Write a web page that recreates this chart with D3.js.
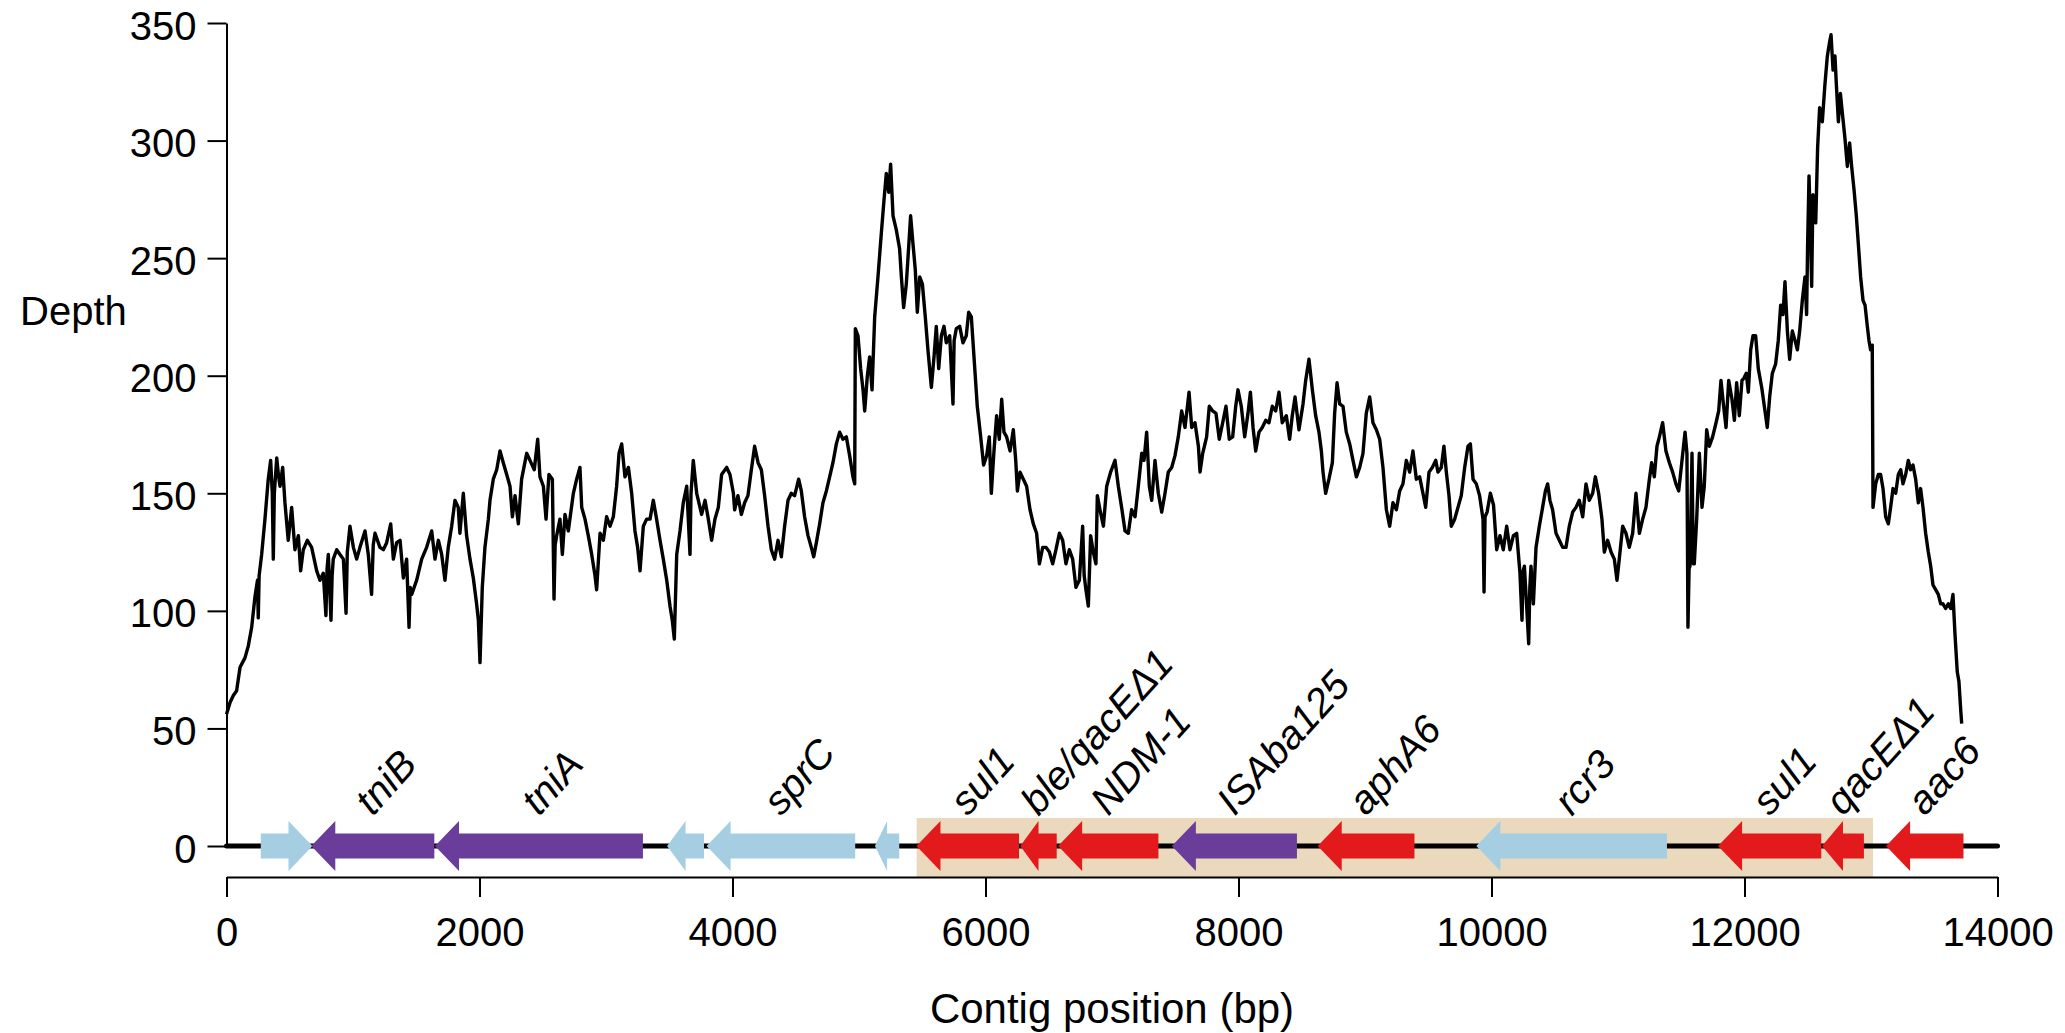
<!DOCTYPE html>
<html><head><meta charset="utf-8">
<script src="https://cdn.jsdelivr.net/npm/d3@7"></script>
<style>
body{margin:0;background:#fff}
svg{display:block}
text{font-family:"Liberation Sans",Arial,Helvetica,sans-serif;fill:#000}
</style>
</head><body>
<svg id="chart" width="2065" height="1033"></svg>
<script>
// ---------- data ----------
const xTicks = [0, 2000, 4000, 6000, 8000, 10000, 12000, 14000];
const yTicks = [0, 50, 100, 150, 200, 250, 300, 350];
const xTitle = "Contig position (bp)";
const yTitle = "Depth";

// depth along the contig (bp position, depth)
const depthPos = [
0,28,54,80,107,146,172,199,225,245,
251,258,278,304,330,349,362,370,378,397,
410,423,444,462,488,515,541,568,586,607,
639,673,713,739,765,786,795,805,826,835,
844,871,897,924,945,955,976,1003,1029,1055,
1095,1121,1147,1160,1174,1213,1240,1266,1298,1319,
1345,1372,1398,1424,1443,1452,1464,1503,1543,1582,
1622,1648,1675,1701,1727,1753,1780,1806,1832,1845,
1872,1898,1925,1951,1977,1991,2004,2022,2043,2070,
2083,2109,2136,2162,2188,2215,2241,2260,2281,2307,
2333,2373,2399,2433,2460,2478,2505,2526,2549,2576,
2589,2598,2610,2636,2655,2676,2702,2742,2768,2794,
2808,2834,2860,2887,2913,2926,2953,2979,3005,3032,
3058,3084,3103,3124,3150,3177,3203,3229,3250,3269,
3295,3321,3348,3374,3400,3427,3453,3480,3506,3524,
3540,3559,3585,3611,3638,3664,3672,3690,3717,3756,
3783,3809,3835,3861,3888,3914,3954,3980,4007,4017,
4043,4070,4096,4122,4149,4175,4202,4228,4254,4281,
4307,4333,4360,4386,4412,4439,4465,4491,4523,4544,
4570,4597,4623,4642,4663,4689,4715,4742,4768,4794,
4821,4847,4873,4900,4926,4952,4966,4971,4992,5013,
5032,5045,5066,5084,5103,5124,5150,5177,5198,5216,
5235,5250,5269,5295,5321,5335,5353,5374,5393,5408,
5427,5445,5461,5480,5501,5524,5545,5572,5593,5611,
5630,5651,5672,5690,5717,5743,5752,5769,5796,5822,
5848,5867,5888,5909,5935,5960,5985,6009,6030,6046,
6067,6088,6109,6128,6146,6167,6194,6220,6239,6252,
6273,6299,6325,6352,6378,6404,6426,6452,6478,6505,
6531,6557,6584,6610,6636,6663,6689,6715,6742,6768,
6780,6794,6813,6831,6852,6873,6884,6905,6932,6958,
6989,7024,7050,7076,7103,7129,7155,7182,7208,7235,
7253,7274,7295,7314,7340,7366,7393,7419,7445,7472,
7498,7524,7551,7577,7609,7630,7656,7683,7696,7717,
7748,7769,7796,7822,7848,7875,7901,7927,7954,7978,
7996,8022,8049,8075,8094,8115,8136,8162,8188,8215,
8241,8267,8294,8320,8346,8378,8404,8425,8447,8478,
8510,8531,8557,8584,8610,8636,8655,8668,8689,8715,
8742,8760,8779,8800,8826,8852,8879,8905,8932,8958,
8984,9010,9037,9063,9090,9116,9142,9169,9195,9221,
9248,9274,9300,9327,9353,9379,9406,9432,9458,9480,
9506,9532,9559,9577,9603,9624,9643,9664,9682,9709,
9735,9761,9788,9814,9833,9854,9880,9906,9933,9941,
9949,9965,9991,10016,10041,10067,10093,10120,10146,10173,
10199,10225,10241,10250,10260,10278,10294,10303,10312,10331,
10352,10378,10404,10426,10444,10462,10483,10510,10536,10563,
10589,10615,10642,10668,10694,10721,10747,10773,10800,10821,
10847,10873,10892,10918,10945,10971,10992,11010,11037,11063,
11089,11116,11142,11169,11195,11221,11248,11266,11287,11308,
11327,11353,11379,11406,11432,11458,11480,11506,11530,11545,
11553,11562,11569,11585,11595,11603,11622,11643,11664,11682,
11701,11722,11748,11775,11796,11814,11833,11854,11875,11901,
11920,11938,11959,11980,11996,12014,12030,12049,12067,12088,
12109,12136,12162,12180,12199,12220,12246,12267,12286,12304,
12320,12339,12357,12378,12399,12418,12436,12457,12478,12491,
12499,12510,12520,12531,12541,12563,12578,12594,12615,12636,
12655,12673,12684,12700,12715,12726,12742,12758,12773,12794,
12813,12831,12847,12866,12884,12900,12918,12937,12953,12971,
12984,12997,13010,13016,13037,13058,13076,13095,13116,13137,
13155,13174,13195,13216,13235,13253,13274,13295,13313,13332,
13353,13374,13392,13411,13432,13453,13472,13490,13511,13532,
13551,13569,13590,13611,13630,13648,13664,13682,13695,13709,
13717
];
const depthVal = [
56,61,64,66,76,80,85,93,106,113,
97,115,124,139,156,164,150,122,150,165,
158,153,161,146,130,144,126,132,117,126,
130,127,117,113,116,98,118,124,96,115,
122,126,124,122,99,125,136,127,122,127,
134,124,107,128,133,127,126,129,137,122,
129,130,114,122,93,110,107,113,122,127,
134,122,130,124,113,127,136,147,144,133,
150,132,122,114,103,96,78,110,127,139,
147,156,160,168,163,158,153,140,149,137,
156,167,164,160,173,157,153,139,158,156,
105,128,132,139,124,141,134,150,156,161,
144,139,132,124,115,109,133,130,140,136,
140,153,167,171,157,161,150,134,127,117,
136,139,139,147,139,130,122,113,102,96,
88,124,134,146,153,124,150,164,150,141,
147,139,130,139,144,158,161,158,150,143,
149,141,146,149,160,170,163,160,149,136,
126,122,130,123,136,147,150,149,156,151,
140,132,127,123,129,137,146,151,157,163,
171,176,173,174,166,157,154,220,217,203,
194,185,200,208,194,225,242,261,275,286,
278,290,268,262,254,242,229,239,255,268,
256,245,227,242,239,225,211,195,208,221,
203,217,221,214,217,188,215,220,221,214,
217,227,225,208,187,175,162,166,174,150,
168,183,173,190,176,174,168,177,164,151,
159,156,153,143,137,133,120,127,127,125,
120,126,133,130,120,126,122,110,113,136,
115,109,102,132,125,120,149,143,136,153,
159,164,153,144,134,133,143,140,153,167,
164,176,153,147,164,150,142,150,159,161,
166,174,185,178,193,178,180,170,159,167,
174,187,185,184,173,180,187,173,174,187,
194,187,174,184,193,178,168,176,178,181,
180,187,185,193,180,183,173,183,191,177,
188,198,207,194,183,176,168,159,150,156,
163,184,197,188,187,176,171,164,157,161,
167,184,191,180,177,173,161,143,136,146,
143,151,154,164,159,168,156,157,150,144,
159,161,164,159,161,170,159,149,136,139,
144,149,161,170,171,156,154,149,139,108,
140,142,150,145,126,132,126,136,126,132,
133,116,96,117,119,102,86,110,119,103,
127,136,144,151,154,147,143,133,130,127,
127,136,142,144,147,140,154,147,150,157,
150,139,125,130,125,122,113,122,136,133,
127,133,150,133,139,144,156,163,157,170,
174,180,168,163,159,154,151,164,176,167,
93,118,119,167,120,120,139,167,144,153,
177,170,174,180,185,198,188,178,198,190,
181,197,183,198,199,201,193,211,217,217,
203,195,185,178,191,201,205,215,230,226,
240,219,207,219,215,211,219,232,242,226,
256,285,265,238,277,265,297,314,308,324,
336,342,345,330,336,324,308,320,312,301,
289,299,289,279,268,256,242,232,230,221,
215,211,213,144,154,158,158,152,140,137,
144,152,150,158,160,154,158,164,160,162,
156,146,152,144,133,125,119,111,109,107,
103,103,101,103,101,107,90,74,70,58,
52
];

// genes (bp); strand -1 = pointing left
const geneStart  = [271, 670, 1648, 3483, 3795, 5126, 5454, 6275, 6574, 7473, 8626, 9880, 11791, 12613, 13119];
const geneEnd    = [680, 1643, 3292, 3775, 4970, 5318, 6265, 6563, 7367, 8462, 9391, 11387, 12607, 12944, 13731];
const geneStrand = [1, -1, -1, -1, -1, -1, -1, -1, -1, -1, -1, -1, -1, -1, -1];
const geneClass  = ["other","transposon","transposon","other","other","other","resistance","resistance","resistance","transposon","resistance","other","resistance","resistance","resistance"];
const geneLabel  = ["","tniB","tniA","","sprC","","sul1","ble/qacE\u03941","NDM-1","ISAba125","aphA6","rcr3","sul1","qacE\u03941","aac6"];
const classColor = {other:"#A6CEE3", transposon:"#6A3D9A", resistance:"#E31A1C"};

// highlighted region (bp)
const regionStart = [5456];
const regionEnd   = [13016];

// ---------- drawing ----------
const svg = d3.select("#chart");
const x = d3.scaleLinear().domain([0, 14000]).range([226.5, 1997.5]);
const y = d3.scaleLinear().domain([0, 350]).range([846, 23]);
const axisY = 877;
const base = y(0);

// highlighted region
svg.append("g").selectAll("rect").data(regionStart).join("rect")
  .attr("x", d => x(d))
  .attr("width", (d, i) => x(regionEnd[i]) - x(d))
  .attr("y", base - 28)
  .attr("height", axisY - (base - 28))
  .attr("fill", "#EAD9BD");

// backbone line
svg.append("line")
  .attr("x1", x(0)).attr("x2", x(14000))
  .attr("y1", base).attr("y2", base)
  .attr("stroke", "#000").attr("stroke-width", 5).attr("stroke-linecap", "round");

// gene arrows
const bodyH = 12.5, headH = 25;
function arrowPath(i) {
  const s = geneStart[i], e = geneEnd[i];
  const hb = Math.min(190, (e - s) * 0.5);
  if (geneStrand[i] < 0) {
    const tip = x(s), hx = x(s + hb), tail = x(e);
    return `M${tip},${base} L${hx},${base - headH} L${hx},${base - bodyH} L${tail},${base - bodyH} L${tail},${base + bodyH} L${hx},${base + bodyH} L${hx},${base + headH} Z`;
  } else {
    const tip = x(e), hx = x(e - hb), tail = x(s);
    return `M${tip},${base} L${hx},${base - headH} L${hx},${base - bodyH} L${tail},${base - bodyH} L${tail},${base + bodyH} L${hx},${base + bodyH} L${hx},${base + headH} Z`;
  }
}
svg.append("g").selectAll("path").data(geneStart).join("path")
  .attr("d", (d, i) => arrowPath(i))
  .attr("fill", (d, i) => classColor[geneClass[i]]);

// gene labels
svg.append("g").selectAll("text").data(geneLabel.map((l, i) => ({l, i})).filter(d => d.l))
  .join("text")
  .attr("transform", d => `translate(${x((geneStart[d.i] + geneEnd[d.i]) / 2)},${base - 29}) rotate(-48)`)
  .attr("font-size", 40)
  .attr("font-style", "italic")
  .attr("text-anchor", "start")
  .text(d => d.l);

// depth line
const line = d3.line().x((d, i) => x(depthPos[i])).y(d => y(d));
svg.append("path")
  .datum(depthVal)
  .attr("d", line)
  .attr("fill", "none")
  .attr("stroke", "#000")
  .attr("stroke-width", 3.4)
  .attr("stroke-linejoin", "round");

// x axis
const gx = svg.append("g").attr("transform", `translate(0,${axisY})`)
  .call(d3.axisBottom(x).tickValues(xTicks).tickFormat(d3.format("d")).tickSize(20).tickSizeOuter(0).tickPadding(21));
gx.selectAll("path,line").attr("stroke", "#000").attr("stroke-width", 2);
gx.selectAll("text").attr("font-size", 40).attr("font-family", "Liberation Sans, Arial, sans-serif");

// y axis
const gy = svg.append("g").attr("transform", `translate(${x(0)},0)`)
  .call(d3.axisLeft(y).tickValues(yTicks).tickFormat(d3.format("d")).tickSize(19).tickSizeOuter(0).tickPadding(11));
gy.selectAll("path,line").attr("stroke", "#000").attr("stroke-width", 2);
gy.selectAll("text").attr("font-size", 40).attr("font-family", "Liberation Sans, Arial, sans-serif").attr("dy", "0.4em");

// titles
svg.append("text").attr("x", 20).attr("y", 325).attr("font-size", 40).text(yTitle);
svg.append("text").attr("x", (x(0) + x(14000)) / 2).attr("y", 1023)
  .attr("text-anchor", "middle").attr("font-size", 42).text(xTitle);
</script>
</body></html>
